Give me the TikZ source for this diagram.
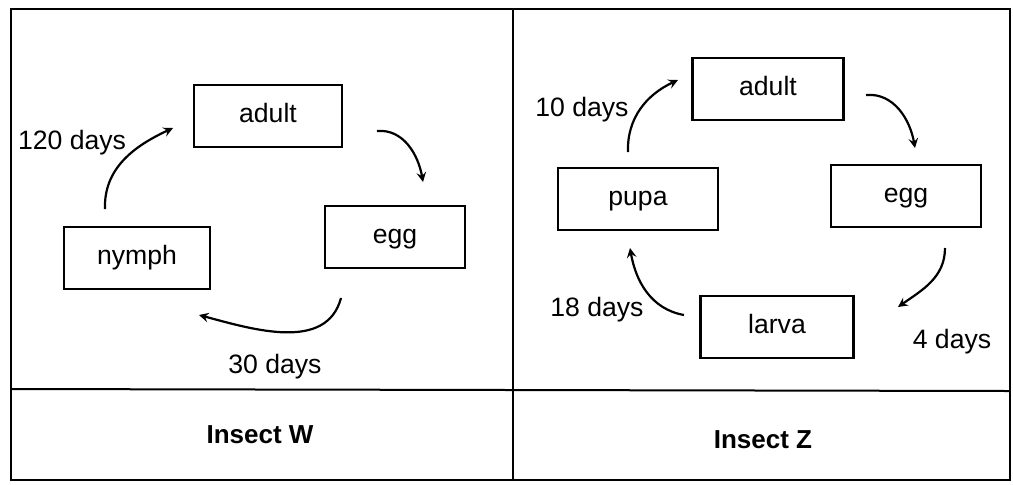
\documentclass[tikz,border=0pt]{standalone}
\usepackage{fontspec}
\setmainfont{Liberation Sans}
\usepackage{tikz}

\begin{document}
\begin{tikzpicture}[x = 0.5pt, y = -0.5pt, >= stealth,
    stage/.style = {draw, line width = 1.2pt, minimum height = 31pt, inner sep = 0pt,
      text height = 0.82em, text depth = 0.2em},
    cycle/.style = {->, line width = 1.1pt},
    every node/.style = {font = \fontsize{13.3}{16}\selectfont}]
      \useasboundingbox (0, 0) rectangle (1013, 484);
      % table frame
      \draw[line width = 1pt] (11, 9) rectangle (1010, 480);
      \draw[line width = 1pt] (11, 389) -- (1010, 391);
      \draw[line width = 1pt] (513, 9) -- (513, 480);
      % insect W
      \node[stage, minimum width = 74pt] (wadult) at (268, 116) {adult};
      \node[stage, minimum width = 70pt] (wegg) at (395, 237) {egg};
      \node[stage, minimum width = 73pt] (wnymph) at (137, 258) {nymph};
      \coordinate (w1) at (105, 209);
      \coordinate (w2) at (173, 128);
      \coordinate (w3) at (377, 131);
      \coordinate (w4) at (423, 182);
      \coordinate (w5) at (341, 298);
      \coordinate (w6) at (199, 315);
      \draw[cycle] (w1) to[out = 92, in = 205] (w2);
      \draw[cycle] (w3) to[out = 5, in = 100] (w4);
      \draw[cycle] (w5) to[out = -105, in = -15] (w6);
      \node (w120) at (72, 143) {120 days};
      \node (w30) at (275, 367) {30 days};
      \node[font = \fontsize{13}{16}\selectfont\bfseries] (wname) at (260, 435) {Insect W};
      % insect Z
      \node[stage, minimum width = 75.5pt] (zadult) at (768, 89) {adult};
      \node[stage, minimum width = 75pt] (zegg) at (906, 196) {egg};
      \node[stage, minimum width = 80pt] (zpupa) at (638, 199) {pupa};
      \node[stage, minimum width = 76.5pt] (zlarva) at (777, 327) {larva};
      \coordinate (z1) at (628, 152);
      \coordinate (z2) at (678, 80);
      \coordinate (z3) at (866, 95);
      \coordinate (z4) at (915, 148);
      \coordinate (z5) at (945, 248);
      \coordinate (z6) at (898, 307);
      \coordinate (z7) at (684, 315);
      \coordinate (z8) at (630, 248);
      \draw[cycle] (z1) to[out = 92, in = 205] (z2);
      \draw[cycle] (z3) to[out = 5, in = 100] (z4);
      \draw[cycle] (z5) to[out = -90, in = 35] (z6);
      \draw[cycle] (z7) to[out = 170, in = -80] (z8);
      \node (z10) at (582, 110) {10 days};
      \node (z18) at (597, 310) {18 days};
      \node (z4d) at (952, 342) {4 days};
      \node[font = \fontsize{13}{16}\selectfont\bfseries] (zname) at (763, 440) {Insect Z};
    \end{tikzpicture}
\end{document}
